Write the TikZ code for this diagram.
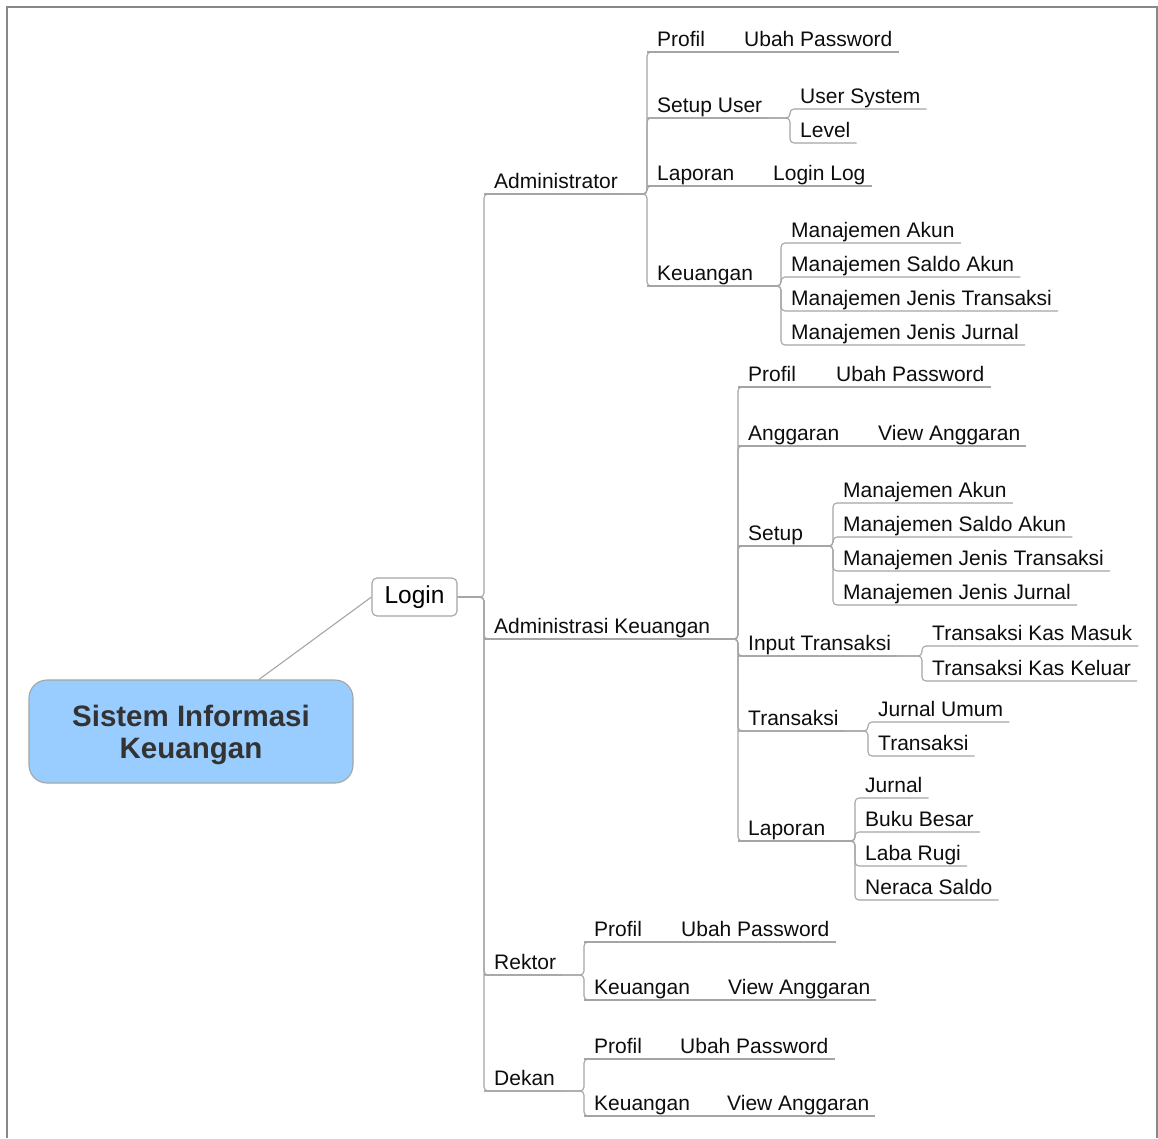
\documentclass[tikz,border=0pt]{standalone}
\usepackage{fontspec}
\setmainfont{Liberation Sans}
\definecolor{linegray}{RGB}{165,165,165}
\definecolor{framegray}{RGB}{136,136,136}
\definecolor{rootblue}{RGB}{153,204,255}
\definecolor{roottext}{RGB}{51,51,51}
\newcommand{\Item}[4]{%
\node[item] (#1) at (#2,#3) {#4};%
}
\newcommand{\Fork}[3]{% start, fork point, child
\draw[link] (#1) -- (#2) -- (#2 |- #3.south) -- ([xshift=-4pt]#3.south east);%
}
\newcommand{\Single}[2]{%
\draw[link] (#1.south west) -- ([xshift=-4pt]#2.south east);%
}

\begin{document}
\begin{tikzpicture}[x=1pt, y=-1pt,
item/.style={anchor=south west, inner xsep=10pt, inner ysep=1pt, text depth=4pt, font=\fontsize{21}{24}\selectfont, text=black!95},
link/.style={draw=linegray, line width=1.1pt, rounded corners=4pt},
frame/.style={draw=framegray, line width=1.5pt},
login/.style={draw=linegray, line width=1.1pt, rounded corners=5pt, fill=white, minimum width=85pt, minimum height=38pt, inner sep=0pt, font=\fontsize{24.5}{28}\selectfont},
root/.style={draw=linegray, line width=1.1pt, fill=rootblue, rounded corners=18pt, minimum width=324pt, minimum height=103pt, align=center, text depth=0pt, text=roottext, font=\fontsize{29.5}{32}\selectfont\bfseries},
]
\useasboundingbox (0,0) rectangle (1158,1138);
\draw[frame] (7,1138) -- (7,7) -- (1157,7) -- (1157,1138); %%%% FRAME

%%%%%%%%%%%%%%%%%%%%%%%% ROOT %%%%%%%%%%%%%%%%%%%%%%%%%%%
\node[root] (root) at (191,731.5) {Sistem Informasi\\Keuangan};
\node[login] (login) at (414.5,597) {Login};
\draw[link] ([xshift=68pt]root.north) -- (login.west);

%%%%%%%%%%%%%%%%%%%%%%%% FORK POINTS %%%%%%%%%%%%%%%%%%%%%%%%%%%
\coordinate (LoginFork) at (484,597);
\coordinate (AdminFork) at (647,194);
\coordinate (SetupUserFork) at (790,118);
\coordinate (AdKeuFork) at (781,286);
\coordinate (AkFork) at (738,639);
\coordinate (AkSetupFork) at (833,546);
\coordinate (AkInputFork) at (922,656);
\coordinate (AkTransFork) at (868,731);
\coordinate (AkLapFork) at (855,841);
\coordinate (RektorFork) at (584,975);
\coordinate (DekanFork) at (584,1091);

%%%%%%%%%%%%%%%%%%%%%%%% USERS %%%%%%%%%%%%%%%%%%%%%%%%%%%
\Item{admin}{484}{194}{Administrator}
\Item{akeu}{484}{639}{Administrasi Keuangan}
\Item{rektor}{484}{975}{Rektor}
\Item{dekan}{484}{1091}{Dekan}
\Fork{login.east}{LoginFork}{admin}
\Fork{login.east}{LoginFork}{akeu}
\Fork{login.east}{LoginFork}{rektor}
\Fork{login.east}{LoginFork}{dekan}

%%%%%%%%%%%%%%%%%%%%%%%% ADMINISTRATOR %%%%%%%%%%%%%%%%%%%%%%%%%%%
\Item{adProfil}{647}{52}{Profil}
\Item{adPass}{734}{52}{Ubah Password}
\Item{adSetup}{647}{118}{Setup User}
\Item{adUser}{790}{109}{User System}
\Item{adLevel}{790}{143}{Level}
\Item{adLap}{647}{186}{Laporan}
\Item{adLog}{763}{186}{Login Log}
\Item{adKeu}{647}{286}{Keuangan}
\Item{adAkun}{781}{243}{Manajemen Akun}
\Item{adSaldo}{781}{277}{Manajemen Saldo Akun}
\Item{adJTrans}{781}{311}{Manajemen Jenis Transaksi}
\Item{adJJurnal}{781}{345}{Manajemen Jenis Jurnal}
\Fork{admin.south west}{AdminFork}{adProfil}
\Fork{admin.south west}{AdminFork}{adSetup}
\Fork{admin.south west}{AdminFork}{adLap}
\Fork{admin.south west}{AdminFork}{adKeu}
\Single{adProfil}{adPass}
\Fork{adSetup.south west}{SetupUserFork}{adUser}
\Fork{adSetup.south west}{SetupUserFork}{adLevel}
\Single{adLap}{adLog}
\Fork{adKeu.south west}{AdKeuFork}{adAkun}
\Fork{adKeu.south west}{AdKeuFork}{adSaldo}
\Fork{adKeu.south west}{AdKeuFork}{adJTrans}
\Fork{adKeu.south west}{AdKeuFork}{adJJurnal}

%%%%%%%%%%%%%%%%%%%%%%%% ADMINISTRASI KEUANGAN %%%%%%%%%%%%%%%%%%%%%%%%%%%
\Item{akProfil}{738}{387}{Profil}
\Item{akPass}{826}{387}{Ubah Password}
\Item{akAngg}{738}{446}{Anggaran}
\Item{akView}{868}{446}{View Anggaran}
\Item{akSetup}{738}{546}{Setup}
\Item{akAkun}{833}{503}{Manajemen Akun}
\Item{akSaldo}{833}{537}{Manajemen Saldo Akun}
\Item{akJTrans}{833}{571}{Manajemen Jenis Transaksi}
\Item{akJJurnal}{833}{605}{Manajemen Jenis Jurnal}
\Item{akInput}{738}{656}{Input Transaksi}
\Item{akMasuk}{922}{646}{Transaksi Kas Masuk}
\Item{akKeluar}{922}{681}{Transaksi Kas Keluar}
\Item{akTrans}{738}{731}{Transaksi}
\Item{akUmum}{868}{722}{Jurnal Umum}
\Item{akTransaksi}{868}{756}{Transaksi}
\Item{akLap}{738}{841}{Laporan}
\Item{akJurnal}{855}{798}{Jurnal}
\Item{akBuku}{855}{832}{Buku Besar}
\Item{akLaba}{855}{866}{Laba Rugi}
\Item{akNeraca}{855}{900}{Neraca Saldo}
\Fork{akeu.south west}{AkFork}{akProfil}
\Fork{akeu.south west}{AkFork}{akAngg}
\Fork{akeu.south west}{AkFork}{akSetup}
\Fork{akeu.south west}{AkFork}{akInput}
\Fork{akeu.south west}{AkFork}{akTrans}
\Fork{akeu.south west}{AkFork}{akLap}
\Single{akProfil}{akPass}
\Single{akAngg}{akView}
\Fork{akSetup.south west}{AkSetupFork}{akAkun}
\Fork{akSetup.south west}{AkSetupFork}{akSaldo}
\Fork{akSetup.south west}{AkSetupFork}{akJTrans}
\Fork{akSetup.south west}{AkSetupFork}{akJJurnal}
\Fork{akInput.south west}{AkInputFork}{akMasuk}
\Fork{akInput.south west}{AkInputFork}{akKeluar}
\Fork{akTrans.south west}{AkTransFork}{akUmum}
\Fork{akTrans.south west}{AkTransFork}{akTransaksi}
\Fork{akLap.south west}{AkLapFork}{akJurnal}
\Fork{akLap.south west}{AkLapFork}{akBuku}
\Fork{akLap.south west}{AkLapFork}{akLaba}
\Fork{akLap.south west}{AkLapFork}{akNeraca}

%%%%%%%%%%%%%%%%%%%%%%%% REKTOR %%%%%%%%%%%%%%%%%%%%%%%%%%%
\Item{rkProfil}{584}{942}{Profil}
\Item{rkPass}{671}{942}{Ubah Password}
\Item{rkKeu}{584}{1000}{Keuangan}
\Item{rkView}{718}{1000}{View Anggaran}
\Fork{rektor.south west}{RektorFork}{rkProfil}
\Fork{rektor.south west}{RektorFork}{rkKeu}
\Single{rkProfil}{rkPass}
\Single{rkKeu}{rkView}

%%%%%%%%%%%%%%%%%%%%%%%% DEKAN %%%%%%%%%%%%%%%%%%%%%%%%%%%
\Item{dkProfil}{584}{1059}{Profil}
\Item{dkPass}{670}{1059}{Ubah Password}
\Item{dkKeu}{584}{1116}{Keuangan}
\Item{dkView}{717}{1116}{View Anggaran}
\Fork{dekan.south west}{DekanFork}{dkProfil}
\Fork{dekan.south west}{DekanFork}{dkKeu}
\Single{dkProfil}{dkPass}
\Single{dkKeu}{dkView}
\end{tikzpicture}
\end{document}
